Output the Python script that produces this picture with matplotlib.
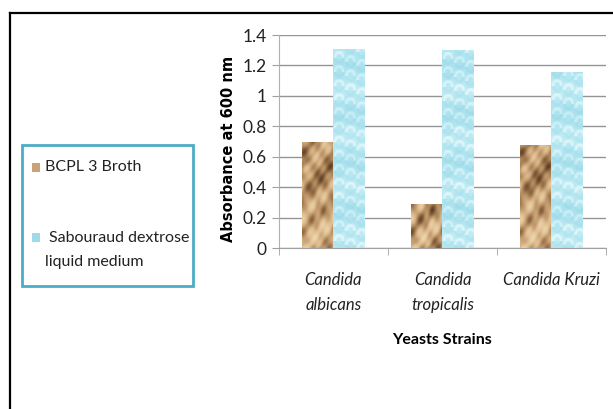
import numpy as np
import matplotlib
matplotlib.use("Agg")
import matplotlib.pyplot as plt
from matplotlib.colors import LinearSegmentedColormap
from matplotlib.patches import Rectangle
from matplotlib.lines import Line2D

# Data
strains = ["Candida\nalbicans", "Candida\ntropicalis", "Candida Kruzi"]
bcpl_broth = [0.70, 0.29, 0.68]
sabouraud = [1.31, 1.30, 1.16]
series_labels = ["BCPL 3 Broth", "Sabouraud dextrose", "liquid medium"]
y_ticks = [0, 0.2, 0.4, 0.6, 0.8, 1.0, 1.2, 1.4]
y_tick_labels = ["0", "0.2", "0.4", "0.6", "0.8", "1", "1.2", "1.4"]

plt.rcParams["font.family"] = ["Lato", "DejaVu Sans"]

W, H = 613, 409
fig = plt.figure(figsize=(W / 100, H / 100), dpi=100)
ax = fig.add_axes([0.455, 0.3936, 0.5336, 0.5208])

x = np.arange(len(strains))
w = 0.285

brown_cmap = LinearSegmentedColormap.from_list(
    "rock", ["#5a3d22", "#85603c", "#b89064", "#dcbb8e", "#efd6ae"])
blue_cmap = LinearSegmentedColormap.from_list(
    "water", ["#8fd3e3", "#a6dfec", "#b7e8f2", "#d3f2f8", "#eafafc"])


def rock_texture(nw, nh):
    u, v = np.meshgrid(np.arange(nw), np.arange(nh)[::-1])
    warp = 3.0 * np.sin(0.07 * v + 0.5) + 2.0 * np.sin(0.19 * u)
    t = (0.34 * np.sin(0.21 * (u + warp) - 0.16 * v)
         + 0.20 * np.sin(0.37 * u + 0.23 * v + 1.3)
         + 0.14 * np.sin(0.62 * (u - warp) - 0.41 * v + 0.4)
         + 0.18 * np.sin(0.05 * v + 0.9))
    t = (t - t.min()) / (t.max() - t.min())
    return t ** 0.8


def water_texture(nw, nh):
    u, v = np.meshgrid(np.arange(nw), np.arange(nh)[::-1])
    cell_u = (u % 11) - 5.5
    cell_v = ((v + 4 * (u // 11)) % 14) - 7.0
    r = np.sqrt(cell_u ** 2 + (cell_v * 0.8) ** 2)
    ring = np.exp(-((r - 4.0) ** 2) / 2.0)
    base = 0.45 + 0.12 * np.sin(0.13 * v + 0.4 * np.sin(0.3 * u))
    t = base + 0.35 * ring * (cell_v > -1) - 0.15 * ring * (cell_v <= -1)
    return np.clip(t, 0, 1)


px_per_unit = 152.0
bar_px_w = 31


def textured_bars(xpos, values, tex_fn, cmap, mean_color):
    bars = ax.bar(xpos, values, width=w, color=mean_color, zorder=2,
                  linewidth=0)
    for b in bars:
        x0 = b.get_x()
        h = b.get_height()
        nh = max(2, int(round(h * px_per_unit)))
        tex = tex_fn(bar_px_w, nh)
        im = ax.imshow(tex, cmap=cmap, vmin=0, vmax=1,
                       extent=[x0, x0 + w, 0, h], aspect="auto",
                       interpolation="bilinear", zorder=2.5)
        im.set_clip_path(b)
    return bars


textured_bars(x - w / 2, bcpl_broth, rock_texture, brown_cmap, "#b48c62")
textured_bars(x + w / 2, sabouraud, water_texture, blue_cmap, "#aee3ef")

ax.set_xlim(-0.5, 2.5)
ax.set_ylim(0, 1.4)
ax.set_yticks(y_ticks)
ax.set_yticklabels(y_tick_labels, fontsize=12.5, color="#222222")
ax.set_xticks(x)
ax.set_xticklabels(strains, fontsize=12, style="italic", color="#222222",
                   linespacing=1.75)
ax.set_xticks([-0.5, 0.5, 1.5, 2.5], minor=True)
ax.tick_params(axis="x", which="major", length=0, pad=17)
ax.tick_params(axis="x", which="minor", length=5, color="#a0a0a0", direction="out")
ax.tick_params(axis="y", length=5, color="#a0a0a0", direction="out", pad=4)
ax.set_axisbelow(True)
ax.yaxis.grid(True, color="#949494", linewidth=1.0)

for s in ["top", "right"]:
    ax.spines[s].set_visible(False)
ax.spines["left"].set_color("#b0b0b0")
ax.spines["bottom"].set_color("#a0a0a0")

ax.set_ylabel("Absorbance at 600 nm", fontsize=10.5, fontweight="bold",
              family=["DejaVu Sans"])
ax.yaxis.set_label_coords(-0.131, 0.465)
ax.set_xlabel("Yeasts Strains", fontsize=11.5, fontweight="bold")
ax.xaxis.set_label_coords(0.5, -0.40)


def fx(px):
    return px / W


def fy(py):
    return 1 - py / H


# Legend box with swatches and labels
fig.add_artist(Rectangle((fx(22), fy(286)), fx(193) - fx(22), fy(145) - fy(286),
                         transform=fig.transFigure, facecolor="white",
                         edgecolor="#4bacc6", linewidth=2.0))
fig.add_artist(Rectangle((fx(31.5), fy(171.5)), fx(8.5), 8.5 / H,
                         transform=fig.transFigure, facecolor="#c9a27a",
                         edgecolor="none"))
fig.add_artist(Rectangle((fx(31.5), fy(242)), fx(8.5), 8.5 / H,
                         transform=fig.transFigure, facecolor="#9fdaea",
                         edgecolor="none"))
fig.text(fx(45), fy(167), series_labels[0], fontsize=11.5, va="center",
         ha="left", color="#222222")
fig.text(fx(49), fy(238), series_labels[1], fontsize=11.5, va="center",
         ha="left", color="#222222")
fig.text(fx(45), fy(262), series_labels[2], fontsize=11.5, va="center",
         ha="left", color="#222222")

# Frame lines along the top and left edges
fig.add_artist(Line2D([fx(10), 1.0], [fy(12.5), fy(12.5)],
                      transform=fig.transFigure, color="black", linewidth=1.6))
fig.add_artist(Line2D([fx(10), fx(10)], [0, fy(12.5)],
                      transform=fig.transFigure, color="black", linewidth=1.6))

fig.savefig("out.png", dpi=100)
